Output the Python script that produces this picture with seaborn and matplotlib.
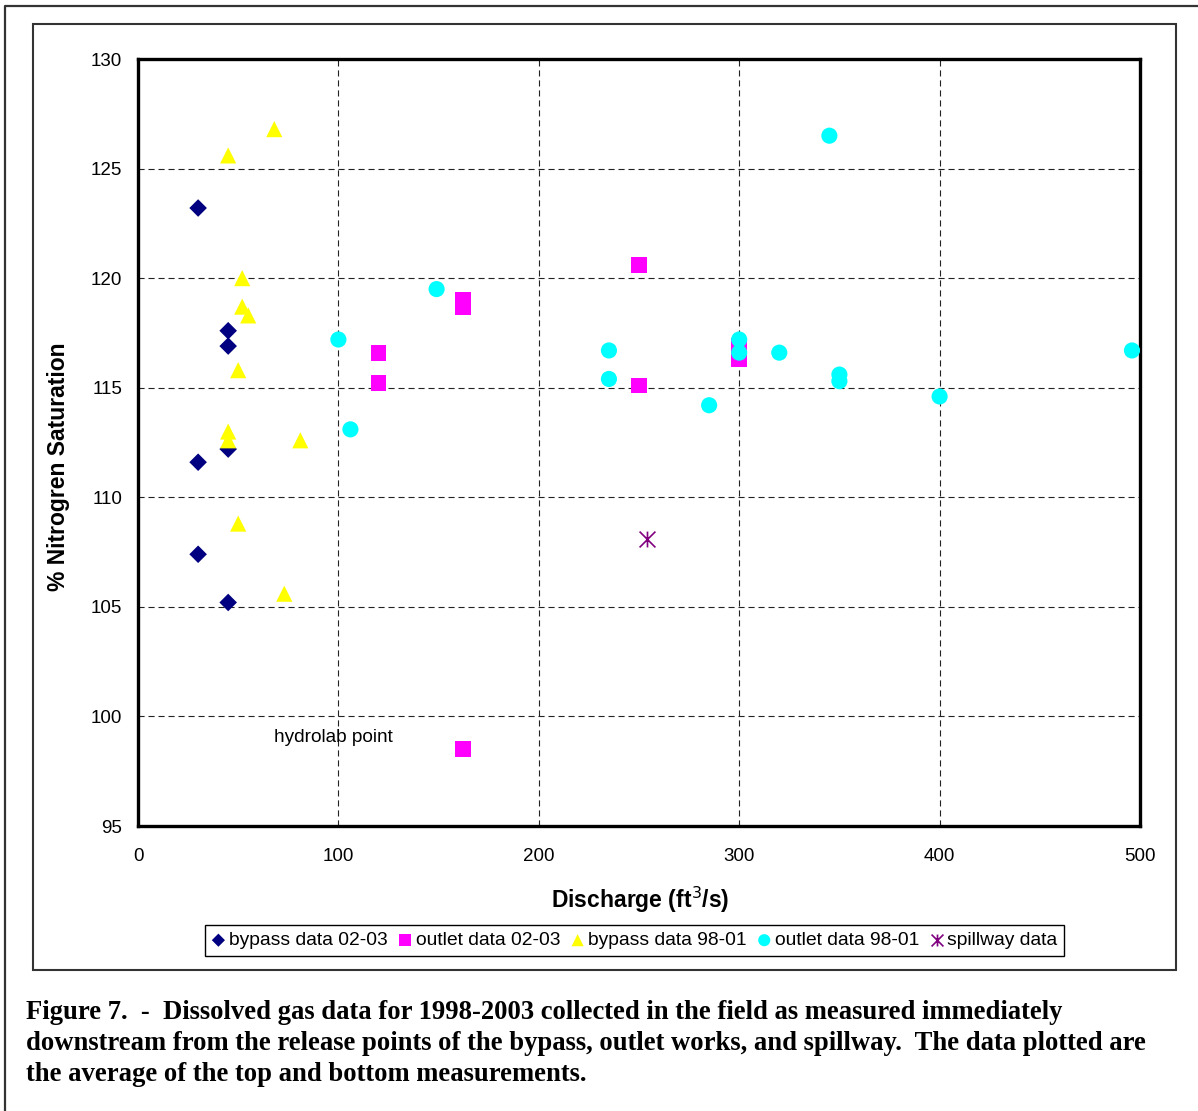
import matplotlib
matplotlib.use("Agg")
import matplotlib.pyplot as plt
from matplotlib.lines import Line2D
from matplotlib.patches import Rectangle
from matplotlib.path import Path
from matplotlib.ticker import MultipleLocator
import seaborn as sns
import pandas as pd

# ---- data ----
bypass_0203_x = [30, 45, 45, 45, 30, 30, 45]
bypass_0203_y = [123.2, 117.6, 116.9, 112.2, 111.6, 107.4, 105.2]

outlet_0203_x = [250, 162, 162, 120, 120, 250, 300, 300, 162]
outlet_0203_y = [120.6, 119.0, 118.7, 116.6, 115.2, 115.1, 116.9, 116.3, 98.5]

bypass_9801_x = [68, 45, 52, 52, 55, 50, 45, 45, 81, 50, 73]
bypass_9801_y = [126.8, 125.6, 120.0, 118.7, 118.3, 115.8, 113.0, 112.6, 112.6, 108.8, 105.6]

outlet_9801_x = [149, 100, 106, 235, 235, 345, 300, 300, 320, 350, 350, 285, 400, 496]
outlet_9801_y = [119.5, 117.2, 113.1, 116.7, 115.4, 126.5, 117.2, 116.6, 116.6, 115.6, 115.3, 114.2, 114.6, 116.7]

spillway_x = [254]
spillway_y = [108.1]

series_labels = ["bypass data 02-03", "outlet data 02-03", "bypass data 98-01",
                 "outlet data 98-01", "spillway data"]
x_ticks = [0, 100, 200, 300, 400, 500]
y_ticks = [95, 100, 105, 110, 115, 120, 125, 130]

caption_lines = [
    "Figure 7.  -  Dissolved gas data for 1998-2003 collected in the field as measured immediately",
    "downstream from the release points of the bypass, outlet works, and spillway.  The data plotted are",
    "the average of the top and bottom measurements.",
]

# ---- style ----
sns.set_style("white")
plt.rcParams["font.family"] = ["Liberation Sans", "DejaVu Sans"]
plt.rcParams["text.color"] = "black"
plt.rcParams["axes.labelcolor"] = "black"
plt.rcParams["xtick.color"] = "black"
plt.rcParams["ytick.color"] = "black"

W, H = 1198, 1111
fig = plt.figure(figsize=(W / 100, H / 100), dpi=100)

def fx(px):
    return px / W

def fy(py):
    return 1 - py / H

ax = fig.add_axes([fx(138), fy(826), fx(1140) - fx(138), fy(59) - fy(826)])

# Excel-style star: X plus vertical bar
star = Path([(-1, -1), (1, 1), (-1, 1), (1, -1), (0, -1), (0, 1)],
            [Path.MOVETO, Path.LINETO, Path.MOVETO, Path.LINETO,
             Path.MOVETO, Path.LINETO])

series = [
    (bypass_0203_x, bypass_0203_y, "D", "#000080", 80),
    (outlet_0203_x, outlet_0203_y, "s", "#FF00FF", 130),
    (bypass_9801_x, bypass_9801_y, "^", "#FFFF00", 135),
    (outlet_9801_x, outlet_9801_y, "o", "#00FFFF", 135),
]
for (xs, ys, mk, col, s), lab in zip(series, series_labels[:4]):
    df = pd.DataFrame({"x": xs, "y": ys})
    sns.scatterplot(data=df, x="x", y="y", marker=mk, color=col, s=s,
                    edgecolor="none", linewidth=0, ax=ax, label=lab,
                    legend=False, zorder=3)
df_sp = pd.DataFrame({"x": spillway_x, "y": spillway_y})
sns.scatterplot(data=df_sp, x="x", y="y", marker=star, color="#800080",
                edgecolor="#800080", s=130, linewidth=1.2, ax=ax,
                label=series_labels[4], legend=False, zorder=3)

ax.set_xlim(0, 500)
ax.set_ylim(95, 130)
ax.set_xticks(x_ticks)
ax.set_yticks(y_ticks)
ax.xaxis.set_minor_locator(MultipleLocator(20))
ax.yaxis.set_minor_locator(MultipleLocator(1))
ax.tick_params(axis="both", which="major", direction="out", length=4.5,
               width=1, color="black", labelsize=13.5, labelcolor="black")
ax.tick_params(axis="x", which="major", pad=11)
ax.tick_params(axis="y", which="major", pad=7)
ax.tick_params(axis="both", which="minor", direction="in", length=4,
               width=1, color="black")
ax.tick_params(top=False, right=False, which="both")

ax.grid(True, which="major", color="#222222", linestyle=(0, (5.5, 3.5)),
        linewidth=0.8, zorder=0)
ax.set_axisbelow(True)
for sp in ax.spines.values():
    sp.set_visible(True)
    sp.set_color("black")
    sp.set_linewidth(2.4)

ax.set_xlabel("")
ax.set_ylabel("")
fig.text(fx(640), fy(900), "Discharge (ft$^{3}$/s)", ha="center", va="center",
         fontsize=16.5, fontweight="bold")
fig.text(fx(58), fy(467), "% Nitrogren Saturation", ha="center", va="center",
         rotation=90, fontsize=16.5, fontweight="bold")

ax.text(68, 99.05, "hydrolab point", ha="left", va="center", fontsize=13.7,
        color="black")

# legend
handles, labels = ax.get_legend_handles_labels()
leg = fig.legend(handles, labels, loc="center",
                 bbox_to_anchor=(fx(634.5), fy(940.5)), ncol=5,
                 fontsize=13.9, frameon=True, fancybox=False,
                 edgecolor="black", framealpha=1, markerscale=0.75,
                 handlelength=0.7, handletextpad=0.2, columnspacing=0.55,
                 borderpad=0.35, borderaxespad=0)
leg.get_frame().set_linewidth(1.0)

# chart area border
fig.add_artist(Rectangle((fx(33), fy(970)), fx(1176) - fx(33), fy(24) - fy(970),
                         transform=fig.transFigure, fill=False,
                         edgecolor="#333333", linewidth=1.5))
# outer frame (top and left)
fig.add_artist(Line2D([fx(5), fx(5), 1.0], [0.0, fy(6), fy(6)],
                      transform=fig.transFigure, color="#333333", linewidth=1.6))

# caption
for i, line in enumerate(caption_lines):
    fig.text(fx(26), fy(1019 + 31 * i), line, ha="left", va="baseline",
             fontsize=19.2, fontweight="bold", color="black",
             family=["Liberation Serif", "DejaVu Serif"])

fig.savefig("out.png", dpi=100)
